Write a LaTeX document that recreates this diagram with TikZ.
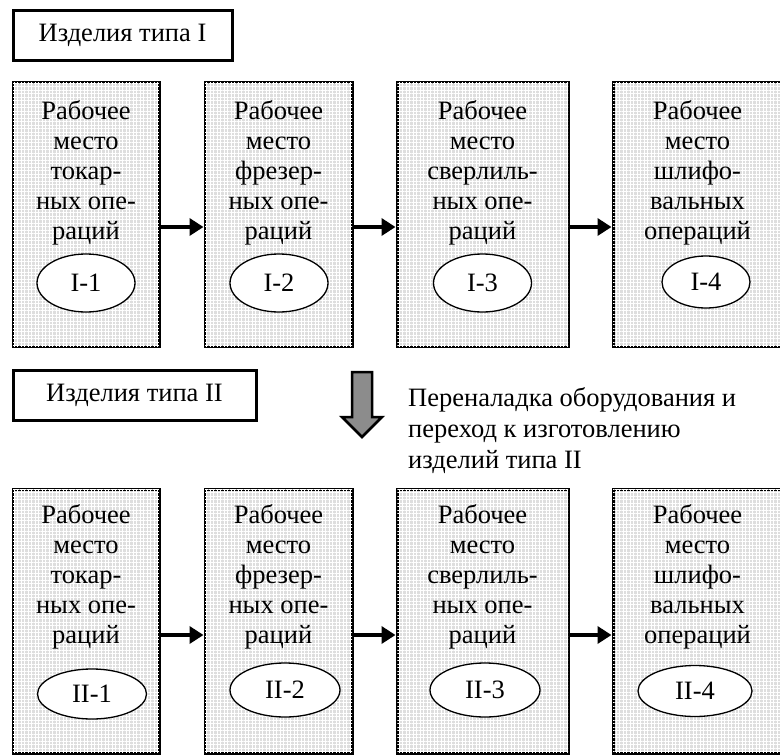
\documentclass[tikz,border=0pt]{standalone}
\usepackage{fontspec}
\setmainfont{Liberation Serif}
\usetikzlibrary{arrows.meta,patterns.meta,shapes.geometric}

\begin{document}
\begin{tikzpicture}[x=1pt, y=-1pt,
	font=\fontsize{26.5}{30}\selectfont,
	place/.style={draw, line width=3pt, fill=black!13, postaction={pattern={Hatch[angle=0, distance=3.5pt, line width=0.9pt]}, pattern color=white}, minimum height=264pt, inner sep=0pt},
	caption/.style={anchor=north, align=center, inner sep=0pt},
	tag/.style={draw, ellipse, line width=1.3pt, fill=white, minimum width=98pt, minimum height=58pt, inner sep=0pt},
	kind/.style={draw, line width=3pt, minimum height=50pt, inner sep=0pt},
	flow/.style={line width=4.5pt, -{Triangle[length=14pt, width=17pt]}}]
	\useasboundingbox (0,0) rectangle (780,755);

	% products of type I
	\node[kind, minimum width=219pt] (k1) at (122.5,35) {Изделия типа I};

	\node[place, minimum width=146pt] (t1) at (86,214.5) {};
	\node[place, minimum width=147pt] (t2) at (278.5,214.5) {};
	\node[place, minimum width=171pt] (t3) at (482.5,214.5) {};
	\node[place, minimum width=169pt] (t4) at (697.5,214.5) {};

	\node[caption] (tc1) at ([yshift=-19pt]t1.north) {Рабочее\\место\\токар-\\ных опе-\\раций};
	\node[caption] (tc2) at ([yshift=-19pt]t2.north) {Рабочее\\место\\фрезер-\\ных опе-\\раций};
	\node[caption] (tc3) at ([yshift=-19pt]t3.north) {Рабочее\\место\\сверлиль-\\ных опе-\\раций};
	\node[caption] (tc4) at ([yshift=-19pt]t4.north) {Рабочее\\место\\шлифо-\\вальных\\операций};

	\node[tag] (te1) at (86,283) {I-1};
	\node[tag] (te2) at (279,283) {I-2};
	\node[tag] (te3) at (482.5,283) {I-3};
	\node[tag, minimum width=88pt, minimum height=52pt] (te4) at (706,282) {I-4};

	\draw[flow] ([yshift=-12.5pt]t1.east) -- ([yshift=-12.5pt]t2.west);
	\draw[flow] ([yshift=-12.5pt]t2.east) -- ([yshift=-12.5pt]t3.west);
	\draw[flow] ([yshift=-12.5pt]t3.east) -- ([yshift=-12.5pt]t4.west);

	% changeover
	\node[kind, minimum width=243pt] (k2) at (134.5,395) {Изделия типа II};
	\draw[line width=2.5pt, fill=black!45] (352,372) -- (372,372) -- (372,417) -- (382,417) -- (362,437) -- (342,417) -- (352,417) -- cycle;
	\node[anchor=north west, align=left, inner sep=0pt, font=\fontsize{26.5}{31}\selectfont] (note) at (408,387) {Переналадка оборудования и\\переход к изготовлению\\изделий типа II};

	% products of type II
	\node[place, minimum width=146pt] (b1) at (86,621) {};
	\node[place, minimum width=147pt] (b2) at (278.5,621) {};
	\node[place, minimum width=171pt] (b3) at (482.5,621) {};
	\node[place, minimum width=169pt] (b4) at (697.5,621) {};

	\node[caption] (bc1) at ([yshift=-17pt]b1.north) {Рабочее\\место\\токар-\\ных опе-\\раций};
	\node[caption] (bc2) at ([yshift=-17pt]b2.north) {Рабочее\\место\\фрезер-\\ных опе-\\раций};
	\node[caption] (bc3) at ([yshift=-17pt]b3.north) {Рабочее\\место\\сверлиль-\\ных опе-\\раций};
	\node[caption] (bc4) at ([yshift=-17pt]b4.north) {Рабочее\\место\\шлифо-\\вальных\\операций};

	\node[tag, minimum width=109pt, minimum height=50pt] (be1) at (92,694) {II-1};
	\node[tag, minimum width=110pt, minimum height=54pt] (be2) at (285,690) {II-2};
	\node[tag, minimum width=110pt, minimum height=54pt] (be3) at (485,690) {II-3};
	\node[tag, minimum width=114pt, minimum height=51pt] (be4) at (695,691) {II-4};

	\draw[flow] ([yshift=-14pt]b1.east) -- ([yshift=-14pt]b2.west);
	\draw[flow] ([yshift=-14pt]b2.east) -- ([yshift=-14pt]b3.west);
	\draw[flow] ([yshift=-14pt]b3.east) -- ([yshift=-14pt]b4.west);
\end{tikzpicture}
\end{document}
